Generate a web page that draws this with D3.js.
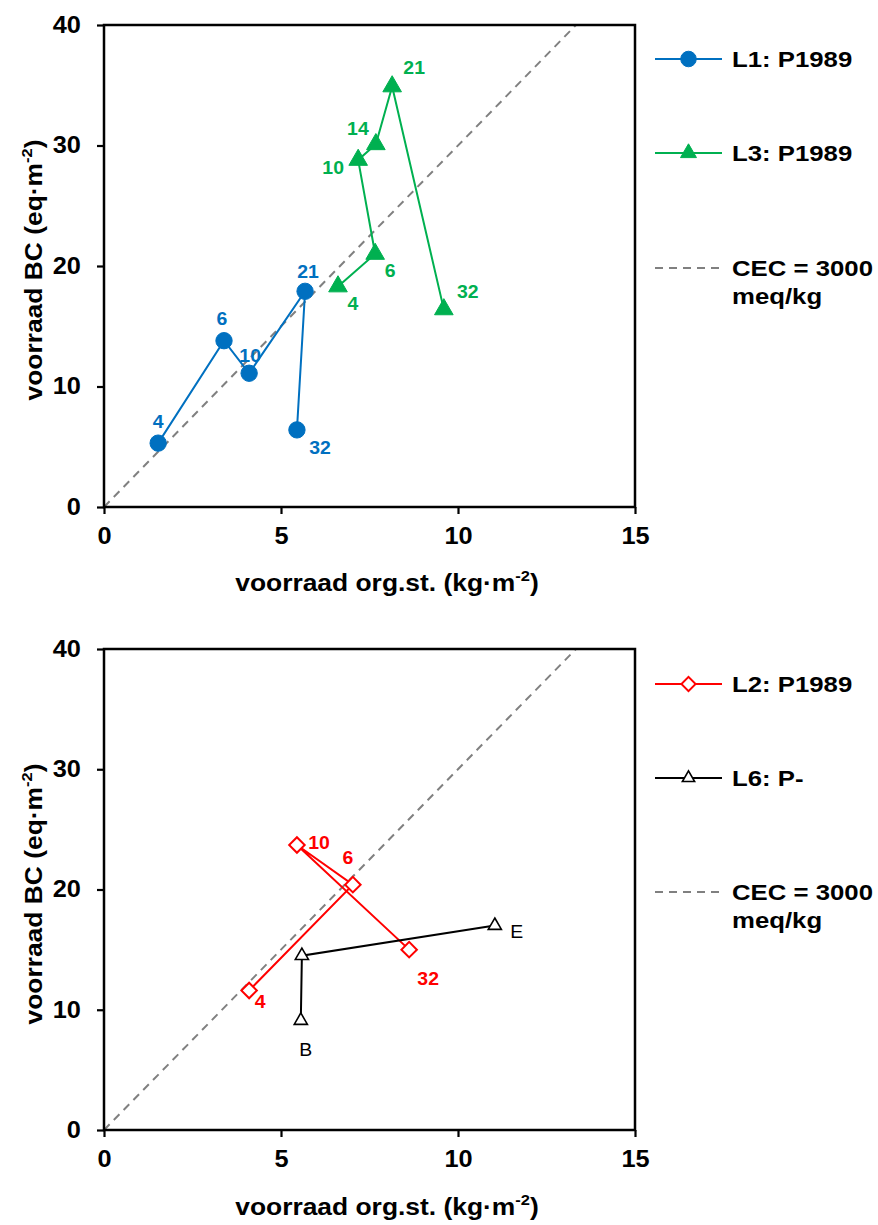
<!DOCTYPE html>
<html><head><meta charset="utf-8">
<script src="https://cdn.jsdelivr.net/npm/d3@7"></script>
<style>body{margin:0;background:#fff;font-family:"Liberation Sans",Arial,sans-serif;}</style>
</head><body>
<svg id="chart" width="878" height="1225"></svg>
<script>
// ---- data ----
const xTicks = [0, 5, 10, 15];
const yTicks = [0, 10, 20, 30, 40];
const cecRatio = 3; // eq per kg org.st. (CEC = 3000 meq/kg)

const l1Labels = ["4", "6", "10", "21", "32"];
const l1X = [1.53, 3.39, 4.10, 5.68, 5.45];
const l1Y = [5.3, 13.8, 11.1, 17.9, 6.4];

const l3Labels = ["4", "6", "10", "14", "21", "32"];
const l3X = [6.61, 7.66, 7.18, 7.68, 8.14, 9.60];
const l3Y = [18.3, 21.0, 28.8, 30.1, 34.9, 16.4];

const l2Labels = ["4", "6", "10", "32"];
const l2X = [4.10, 7.03, 5.45, 8.62];
const l2Y = [11.6, 20.4, 23.7, 15.0];

const l6Labels = ["B", "", "E"];
const l6X = [5.56, 5.59, 11.04];
const l6Y = [9.1, 14.5, 17.0];

const legendNames = {l1: "L1: P1989", l3: "L3: P1989", l2: "L2: P1989", l6: "L6: P-", cec: ["CEC = 3000", "meq/kg"]};

// label offsets (style, not data)
const offsets = {
  l1: [[0,-22],[-2,-22],[1,-18],[3,-20],[23,18]],
  l3: [[15,17],[15,17],[-25,8],[-18,-16],[22,-19],[24,-18]],
  l2: [[11,11],[-5,-27],[22,-3],[19,29]],
  l6: [[5,29],[0,0],[22,6]]
};

const svg = d3.select("#chart");
const W = {left:104, right:635};
const FONT = "Liberation Sans, Arial, sans-serif";

function mk(xs, ys, labs){ return xs.map((x,i)=>({x:x, y:ys[i], label:labs[i]})); }

function addText(g, x, y, txt, size, sx, anchor, weight){
  return g.append("text").attr("transform", `translate(${x},${y}) scale(${sx},1)`)
    .attr("text-anchor", anchor||"start").style("font-family", FONT)
    .style("font-size", size+"px").style("font-weight", weight||"bold").text(txt);
}

function drawPanel(top, bottom, series, legendY, xTitleY, yTitleY){
  const x = d3.scaleLinear().domain([0,15]).range([W.left, W.right]);
  const y = d3.scaleLinear().domain([0,40]).range([bottom, top]);
  const g = svg.append("g");

  // dashed CEC line
  g.append("line")
    .attr("x1", x(0)).attr("y1", y(0))
    .attr("x2", x(40/cecRatio)).attr("y2", y(40))
    .attr("stroke", "#808080").attr("stroke-width", 2).attr("stroke-dasharray", "8,6");

  // axes
  const xa = g.append("g").attr("transform", `translate(0,${bottom})`)
    .call(d3.axisBottom(x).tickValues(xTicks).tickSize(7).tickPadding(14).tickFormat(d3.format("d")));
  const ya = g.append("g").attr("transform", `translate(${W.left},0)`)
    .call(d3.axisLeft(y).tickValues(yTicks).tickSize(7).tickPadding(14).tickFormat(d3.format("d")));
  [xa, ya].forEach(a=>{
    a.select(".domain").remove();
    a.selectAll("line").attr("stroke", "#000").attr("stroke-width", 2.2);
    a.selectAll("text").attr("fill", "#000").style("font-size", "23px").style("font-weight", "bold")
      .style("font-family", FONT).attr("transform", "scale(1.1,1)");
  });
  // frame
  g.append("rect").attr("x", W.left).attr("y", top).attr("width", W.right-W.left).attr("height", bottom-top)
    .attr("fill", "none").attr("stroke", "#000").attr("stroke-width", 2.5);

  // axis titles
  const xt = g.append("text").attr("transform", `translate(387,${xTitleY}) scale(1.1,1)`)
    .attr("text-anchor", "middle").style("font-family", FONT).style("font-size", "24px").style("font-weight", "bold");
  xt.append("tspan").text("voorraad org.st. (kg·m");
  xt.append("tspan").text("-2").attr("dy", -10).style("font-size", "15px");
  xt.append("tspan").text(")").attr("dy", 10);

  const yt = g.append("text").attr("transform", `translate(42,${yTitleY}) scale(1,1.1) rotate(-90)`)
    .attr("text-anchor", "middle").style("font-family", FONT).style("font-size", "24px").style("font-weight", "bold");
  yt.append("tspan").text("voorraad BC (eq·m");
  yt.append("tspan").text("-2").attr("dy", -10).style("font-size", "15px");
  yt.append("tspan").text(")").attr("dy", 10);

  const line = d3.line().x(d=>x(d.x)).y(d=>y(d.y));
  series.forEach(s=>{
    g.append("path").datum(s.data).attr("d", line).attr("fill", "none")
      .attr("stroke", s.color).attr("stroke-width", 2);
    const sym = d3.symbol().type(s.symbol).size(s.size);
    g.selectAll(null).data(s.data).enter().append("path")
      .attr("d", sym).attr("transform", d=>`translate(${x(d.x)},${y(d.y)})${s.rot||""}`)
      .attr("fill", s.fill).attr("stroke", s.color).attr("stroke-width", s.sw||1);
    s.data.forEach((d,i)=>{
      if(!d.label) return;
      addText(g, x(d.x)+s.offs[i][0], y(d.y)+s.offs[i][1]+6.5, d.label, 18, 1.08, "middle", s.labelWeight)
        .attr("fill", s.color);
    });
  });

  // legend
  const lx0 = 655, lx1 = 722;
  series.forEach((s,i)=>{
    const ly = legendY[i];
    g.append("line").attr("x1", lx0).attr("x2", lx1).attr("y1", ly).attr("y2", ly)
      .attr("stroke", s.color).attr("stroke-width", 2);
    g.append("path").attr("d", d3.symbol().type(s.symbol).size(s.legendSize||s.size)())
      .attr("transform", `translate(${(lx0+lx1)/2},${ly})${s.rot||""}`)
      .attr("fill", s.fill).attr("stroke", s.color).attr("stroke-width", s.sw||1);
    addText(g, 732, ly+8, s.name, 23, 1.12);
  });
  const cy = legendY[2];
  g.append("line").attr("x1", lx0).attr("x2", lx1).attr("y1", cy).attr("y2", cy)
    .attr("stroke", "#808080").attr("stroke-width", 2).attr("stroke-dasharray", "8,6");
  addText(g, 732, cy+8, legendNames.cec[0], 23, 1.12);
  addText(g, 732, cy+36, legendNames.cec[1], 23, 1.12);
}

drawPanel(25, 507, [
  {name: legendNames.l1, data: mk(l1X,l1Y,l1Labels), color:"#0070C0", fill:"#0070C0", symbol:d3.symbolCircle, size:210, legendSize:190, offs:offsets.l1},
  {name: legendNames.l3, data: mk(l3X,l3Y,l3Labels), color:"#00B050", fill:"#00B050", symbol:d3.symbolTriangle, size:150, legendSize:110, offs:offsets.l3}
], [59, 153, 268], 591, 270);

drawPanel(649, 1130, [
  {name: legendNames.l2, data: mk(l2X,l2Y,l2Labels), color:"#FF0000", fill:"#fff", symbol:d3.symbolSquare, size:120, legendSize:100, rot:" rotate(45)", sw:2, offs:offsets.l2},
  {name: legendNames.l6, data: mk(l6X,l6Y,l6Labels), color:"#000", fill:"#fff", symbol:d3.symbolTriangle, size:75, legendSize:65, sw:1.6, offs:offsets.l6, labelWeight:"normal"}
], [684, 778, 892], 1215, 894);
</script>
</body></html>
